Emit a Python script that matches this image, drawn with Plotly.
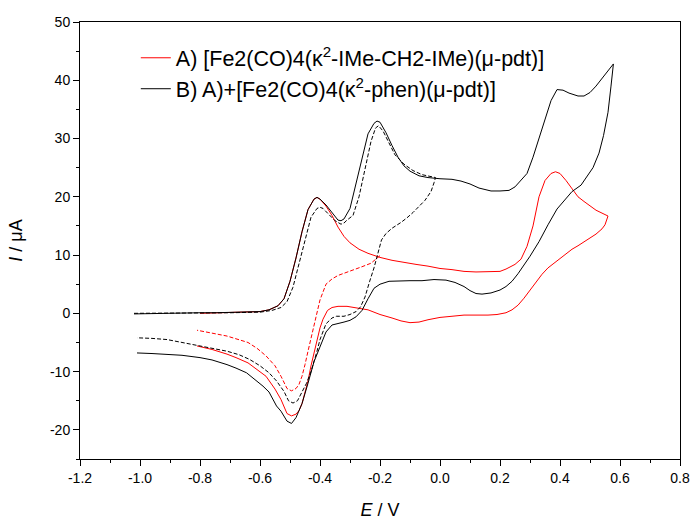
import plotly.graph_objects as go

# ---- Data ----
# A) full scan (red solid): forward then reverse
A_E = [-0.80, -0.75, -0.70, -0.65, -0.60, -0.57, -0.54, -0.52, -0.50, -0.48, -0.46, -0.44, -0.42, -0.41,
       -0.40, -0.38, -0.36, -0.34, -0.32, -0.30, -0.27, -0.24, -0.20, -0.16, -0.12, -0.08, -0.04, 0.00,
       0.04, 0.08, 0.12, 0.16, 0.20, 0.22, 0.25, 0.27, 0.29, 0.31, 0.33, 0.35, 0.37, 0.385, 0.40, 0.42,
       0.44, 0.46, 0.48, 0.50, 0.52, 0.54, 0.56,
       0.55, 0.54, 0.52, 0.50, 0.48, 0.46, 0.44, 0.42, 0.40, 0.38, 0.36, 0.34, 0.32, 0.30, 0.28, 0.26,
       0.24, 0.22, 0.19, 0.16, 0.12, 0.08, 0.04, 0.00, -0.04, -0.07, -0.10, -0.13, -0.16, -0.20, -0.24,
       -0.28, -0.31, -0.34, -0.36, -0.375, -0.39, -0.40, -0.41, -0.42, -0.43, -0.44, -0.45, -0.46, -0.47,
       -0.48, -0.495, -0.51, -0.53, -0.55, -0.58, -0.61, -0.64, -0.68, -0.71, -0.76, -0.81]
A_I = [0.0, 0.05, 0.1, 0.15, 0.3, 0.6, 1.3, 2.5, 5.5, 9.5, 14.0, 17.8, 19.6, 19.9,
       19.6, 18.4, 16.8, 14.8, 13.2, 12.1, 11.0, 10.3, 9.6, 9.1, 8.7, 8.4, 8.1, 7.7,
       7.5, 7.2, 7.1, 7.1, 7.2, 7.6, 8.4, 9.3, 11.5, 15.0, 20.0, 22.8, 24.0, 24.3, 24.0, 22.8,
       21.3, 20.0, 19.2, 18.4, 17.7, 17.2, 16.7,
       15.2, 14.5, 13.6, 12.9, 12.2, 11.6, 11.0, 10.2, 9.5, 8.7, 7.8, 6.7, 5.3, 3.9, 2.6, 1.4,
       0.6, 0.1, -0.2, -0.3, -0.3, -0.3, -0.5, -0.7, -1.1, -1.5, -1.6, -1.3, -0.8, -0.2, 0.6,
       1.0, 1.2, 1.2, 1.0, 0.5, -1.0, -2.5, -4.5, -6.5, -9.0, -11.6, -13.8, -15.5, -16.7,
       -17.3, -17.6, -17.2, -14.8, -13.0, -10.8, -9.6, -8.5, -7.6, -7.0, -6.2, -5.6]

# A) partial scan (red dashed): return branch
A2_E = [-0.20, -0.23, -0.26, -0.29, -0.32, -0.34, -0.36, -0.38, -0.40, -0.41, -0.42, -0.43, -0.44,
        -0.45, -0.46, -0.47, -0.48, -0.495, -0.51, -0.53, -0.55, -0.58, -0.61, -0.64, -0.68, -0.71,
        -0.76, -0.81]
A2_I = [9.9, 8.6, 8.0, 7.4, 6.8, 6.5, 5.9, 5.0, 2.3, 0.2, -2.0, -4.0, -6.5,
        -8.8, -10.8, -12.2, -12.9, -13.3, -12.9, -10.8, -9.0, -7.3, -6.0, -5.0, -4.4, -3.9,
        -3.4, -2.9]

# B) full scan (black solid)
B_E = [-1.02, -0.95, -0.90, -0.85, -0.80, -0.75, -0.70, -0.65, -0.60, -0.57, -0.54, -0.52, -0.50,
       -0.48, -0.46, -0.44, -0.42, -0.41, -0.40, -0.38, -0.36, -0.34, -0.33, -0.32, -0.30, -0.28,
       -0.26, -0.24, -0.22, -0.21, -0.20, -0.18, -0.16, -0.14, -0.12, -0.10, -0.07, -0.04, 0.00,
       0.04, 0.07, 0.10, 0.13, 0.17, 0.20, 0.23, 0.25, 0.27, 0.29, 0.31, 0.33, 0.35, 0.37, 0.39,
       0.41, 0.43, 0.46, 0.48, 0.50, 0.52, 0.54, 0.56, 0.578,
       0.57, 0.56, 0.545, 0.53, 0.51, 0.49, 0.47, 0.44, 0.42, 0.39, 0.36, 0.33, 0.30, 0.28, 0.26,
       0.24, 0.22, 0.20, 0.17, 0.14, 0.12, 0.10, 0.08, 0.05, 0.02, -0.02, -0.06, -0.10, -0.14,
       -0.17, -0.20, -0.22, -0.24, -0.26, -0.28, -0.30, -0.32, -0.34, -0.36, -0.38, -0.40, -0.42,
       -0.44, -0.46, -0.48, -0.495, -0.51, -0.53, -0.545, -0.57, -0.59, -0.62, -0.645, -0.68,
       -0.71, -0.76, -0.80, -0.86, -0.91, -0.96, -1.01]
B_I = [-0.1, 0.0, 0.0, 0.1, 0.1, 0.1, 0.15, 0.2, 0.3, 0.6, 1.3, 2.5, 5.5,
       9.5, 14.0, 17.8, 19.6, 19.9, 19.6, 18.6, 17.2, 16.0, 15.9, 16.2, 18.0, 22.3,
       27.0, 30.8, 32.6, 33.0, 32.8, 31.0, 28.8, 26.8, 25.3, 24.4, 23.6, 23.3, 23.1,
       23.0, 22.7, 22.2, 21.5, 21.0, 21.0, 21.1, 21.7, 22.9, 24.0, 26.8, 30.0, 33.5, 36.5, 38.4,
       38.3, 37.8, 37.3, 37.3, 37.9, 39.0, 40.3, 41.7, 42.8,
       39.0, 34.5, 30.5, 27.5, 25.0, 23.4, 22.0, 20.9, 19.7, 17.9, 15.2, 12.3, 9.8, 8.2, 6.8,
       5.5, 4.6, 4.0, 3.5, 3.3, 3.4, 3.9, 4.6, 5.3, 5.7, 5.8, 5.6, 5.6, 5.6,
       5.5, 5.0, 4.3, 2.5, 0.5, -0.6, -1.2, -1.5, -1.7, -2.0, -3.2, -5.8, -8.3,
       -12.0, -15.5, -17.9, -18.9, -18.5, -16.8, -15.9, -13.5, -12.5, -11.2, -10.2, -9.4,
       -8.8, -8.0, -7.6, -7.2, -7.0, -6.9, -6.8]

# B) partial scan (black dashed)
B2_E = [-1.02, -0.90, -0.80, -0.70, -0.60, -0.56, -0.53, -0.51, -0.49, -0.47, -0.45, -0.43, -0.41,
        -0.40, -0.39, -0.37, -0.35, -0.33, -0.32, -0.31, -0.29, -0.27, -0.25, -0.23, -0.215, -0.205,
        -0.19, -0.17, -0.15, -0.12, -0.09, -0.06, -0.03, -0.015,
        -0.02, -0.03, -0.05, -0.07, -0.09, -0.11, -0.13, -0.16, -0.18, -0.195, -0.21, -0.22, -0.235,
        -0.25, -0.265, -0.28, -0.30, -0.32, -0.345, -0.36, -0.38, -0.39, -0.40, -0.41, -0.42, -0.43,
        -0.445, -0.46, -0.475, -0.49, -0.505, -0.52, -0.545, -0.57, -0.60, -0.635, -0.67, -0.71,
        -0.76, -0.80, -0.86, -0.91, -0.96, -1.01]
B2_I = [0.0, 0.0, 0.1, 0.1, 0.2, 0.5, 1.0, 2.0, 4.5, 8.5, 13.0, 16.5, 18.0,
        18.2, 18.0, 17.0, 15.9, 15.3, 15.5, 16.0, 16.8, 20.0, 24.5, 29.5, 31.8, 32.2,
        31.3, 29.3, 27.2, 25.6, 24.5, 23.8, 23.5, 23.3,
        22.4, 20.9, 19.4, 18.3, 17.3, 16.4, 15.6, 14.6, 13.7, 12.6, 9.6, 7.8, 5.4,
        2.8, 1.1, 0.3, -0.2, -0.5, -0.5, -0.8, -1.8, -3.0, -4.5, -6.5, -8.5, -10.0,
        -12.0, -13.6, -15.0, -15.4, -15.0, -13.4, -11.6, -10.2, -9.0, -7.9, -7.1, -6.5,
        -6.0, -5.6, -5.0, -4.5, -4.3, -4.2]

# Tick labels (as printed, with hyphen minus)
X_TICKS = [-1.2, -1.0, -0.8, -0.6, -0.4, -0.2, 0.0, 0.2, 0.4, 0.6, 0.8]
X_TICKTEXT = ["-1.2", "-1.0", "-0.8", "-0.6", "-0.4", "-0.2", "0.0", "0.2", "0.4", "0.6", "0.8"]
Y_TICKS = [-20, -10, 0, 10, 20, 30, 40, 50]
Y_TICKTEXT = ["-20", "-10", "0", "10", "20", "30", "40", "50"]

LEGEND_A = "A) [Fe2(CO)4(κ<sup>2</sup>-IMe-CH2-IMe)(μ-pdt)]"
LEGEND_B = "B) A)+[Fe2(CO)4(κ<sup>2</sup>-phen)(μ-pdt)]"

RED = "#FF0000"
BLACK = "#000000"
FONT = "Liberation Sans, Arial, sans-serif"

fig = go.Figure()
fig.add_trace(go.Scatter(x=A_E, y=A_I, mode="lines", name=LEGEND_A,
                         line=dict(color=RED, width=1), legendgroup="a"))
fig.add_trace(go.Scatter(x=A2_E, y=A2_I, mode="lines", showlegend=False,
                         line=dict(color=RED, width=1, dash="4px,2px")))
fig.add_trace(go.Scatter(x=B_E, y=B_I, mode="lines", name=LEGEND_B,
                         line=dict(color=BLACK, width=1), legendgroup="b"))
fig.add_trace(go.Scatter(x=B2_E, y=B2_I, mode="lines", showlegend=False,
                         line=dict(color=BLACK, width=1, dash="4px,2px")))

fig.update_layout(
    width=691, height=525,
    margin=dict(l=80, r=11, t=22, b=66),
    plot_bgcolor="white", paper_bgcolor="white",
    font=dict(family=FONT, color="black", size=14),
    legend=dict(x=0.093, y=0.965, xanchor="left", yanchor="top",
                bgcolor="rgba(0,0,0,0)", font=dict(size=21.5, family=FONT),
                tracegroupgap=0),
    showlegend=True,
)
fig.update_xaxes(
    range=[-1.2, 0.8], tickvals=X_TICKS, ticktext=X_TICKTEXT,
    showgrid=False, zeroline=False, automargin=False,
    showline=True, linecolor="black", linewidth=1, mirror=True,
    ticks="outside", ticklen=6, tickcolor="black", tickwidth=1,
    minor=dict(ticks="outside", dtick=0.1, tick0=-1.2, ticklen=3, tickcolor="black"),
    tickfont=dict(size=14),
    title=dict(text="<i>E</i> / V", font=dict(size=18), standoff=18),
)
fig.update_yaxes(
    range=[-25, 50], tickvals=Y_TICKS, ticktext=Y_TICKTEXT,
    showgrid=False, zeroline=False, automargin=False,
    showline=True, linecolor="black", linewidth=1, mirror=True,
    ticks="outside", ticklen=6, tickcolor="black", tickwidth=1,
    minor=dict(ticks="outside", dtick=5, tick0=0, ticklen=3, tickcolor="black"),
    tickfont=dict(size=14),
    title=dict(text="<i>I</i> / μA", font=dict(size=18), standoff=22),
)

# remove the page's default 8px body margin so the figure fills the window exactly
fig.write_html(
    "out.html",
    config={"displayModeBar": False},
    post_script="document.body.style.margin='0';document.body.style.overflow='hidden';",
)
